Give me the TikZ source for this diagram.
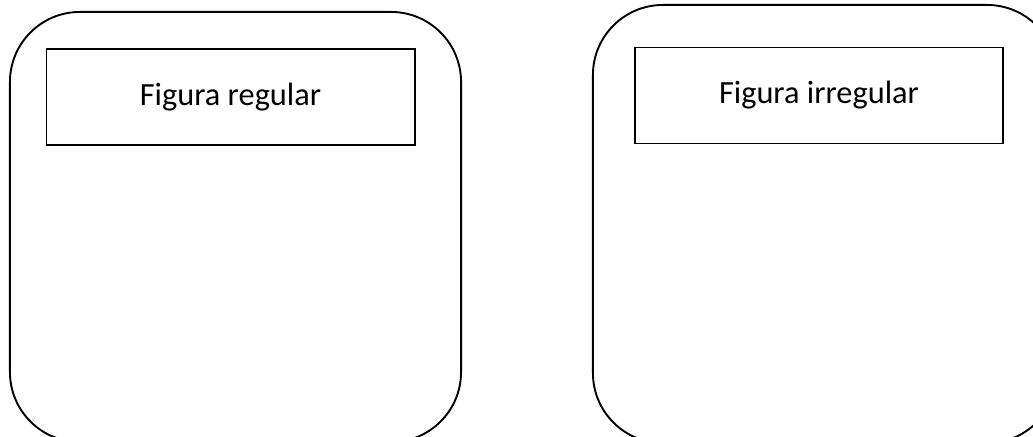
\documentclass[tikz,border=0pt]{standalone}
\usepackage{fontspec}
\setmainfont{Carlito}
\usepackage{tikz}

\tikzset{
  caixa/.style={draw, line width=1.35pt, rounded corners=1.75cm, inner sep=0pt},
  titol/.style={draw, line width=1.35pt, inner sep=0pt, minimum width=9.2cm, minimum height=2.4cm, font=\fontsize{23}{27}\selectfont}
}

\begin{document}
\begin{tikzpicture}[x=0.025cm, y=-0.025cm]
    % Marges del dibuix (en px de la imatge)
    \useasboundingbox (0,0) rectangle (1033,436);
    \clip (0,0) rectangle (1033,436);

    % Caixes grans (tallades per baix)
    \node[caixa, minimum width=11.275cm, minimum height=10.75cm] (regular) at (235.5, 227) {};
    \node[caixa, minimum width=11.6cm, minimum height=10.95cm] (irregular) at (825, 224) {};

    % Titols
    \node[titol] (titolreg) at (230.5, 97) {Figura regular};
    \node[titol] (titolirr) at (819, 95.5) {Figura irregular};
\end{tikzpicture}
\end{document}
